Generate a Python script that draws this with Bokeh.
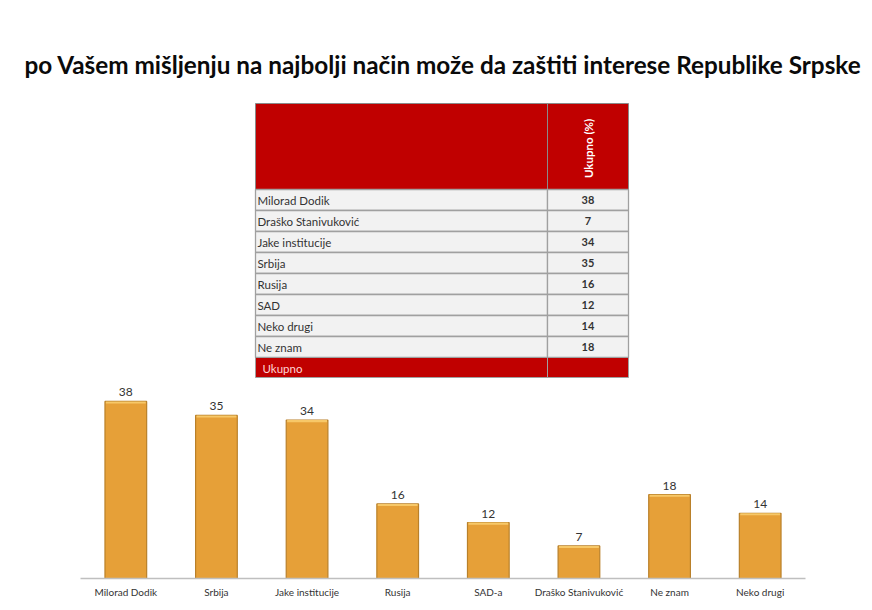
import math
from bokeh.plotting import figure
from bokeh.models import Range1d, FactorRange, Title
from bokeh.layouts import column
from bokeh.core.properties import value
from bokeh.embed import file_html
from bokeh.resources import INLINE

# ---- data ----
title_text = "po Vašem mišljenju na najbolji način može da zaštiti interese Republike Srpske"
table_header = "Ukupno (%)"
table_rows = ["Milorad Dodik", "Draško Stanivuković", "Jake institucije", "Srbija",
              "Rusija", "SAD", "Neko drugi", "Ne znam"]
table_values = [38, 7, 34, 35, 16, 12, 14, 18]
table_total_label = "Ukupno"

bar_categories = ["Milorad Dodik", "Srbija", "Jake institucije", "Rusija",
                  "SAD-a", "Draško Stanivuković", "Ne znam", "Neko drugi"]
bar_values = [38, 35, 34, 16, 12, 7, 18, 14]

FONT = "Lato"

W = 870
FL, FR = 80, 805          # plot frame, shared by both figures
BL, BR = FL, W - FR

# ---- top figure: title + table ----
TOP_H = 378
FT = 95                   # frame top of the table figure
top = figure(width=W, height=TOP_H, x_range=Range1d(FL, FR), y_range=Range1d(TOP_H, FT),
             output_backend="svg", toolbar_location=None,
             min_border_left=BL, min_border_right=BR, min_border_top=FT, min_border_bottom=0)
top.axis.visible = False
top.grid.visible = False
top.outline_line_color = None
top.background_fill_color = "white"
top.border_fill_color = "white"

top.title = Title(text=title_text, align="center", text_font=FONT,
                  text_font_style="bold", text_font_size="24.3px", text_color="#0a0a0a",
                  standoff=33)

tl, tr, td = 255, 628, 547
h_top, h_bot = 103, 189
rh = 21
n = len(table_rows)

# header
top.quad(left=[tl, td], right=[td, tr], top=[h_top, h_top], bottom=[h_bot, h_bot],
         fill_color="#C00000", line_color="#8a8a8a", line_width=1)
top.text(x=[(td + tr) / 2], y=[(h_top + h_bot) / 2 + 2], text=[table_header],
         angle=math.pi / 2, text_font=value(FONT), text_font_style="bold",
         text_font_size="11.5px", text_color="white", text_align="center",
         text_baseline="middle")

# rows
row_tops = [h_bot + i * rh for i in range(n)]
row_bots = [t + rh for t in row_tops]
top.quad(left=[tl] * n, right=[td] * n, top=row_tops, bottom=row_bots,
         fill_color="#F2F2F2", line_color="#A0A0A0", line_width=1.3)
top.quad(left=[td] * n, right=[tr] * n, top=row_tops, bottom=row_bots,
         fill_color="#F2F2F2", line_color="#A0A0A0", line_width=1.3)
top.text(x=[tl + 2] * n, y=[t + rh / 2 for t in row_tops], text=table_rows,
         text_font=value(FONT), text_font_size="11.5px", text_color="#333333",
         text_align="left", text_baseline="middle")
top.text(x=[(td + tr) / 2] * n, y=[t + rh / 2 for t in row_tops],
         text=[str(v) for v in table_values], text_font=value(FONT),
         text_font_style="bold", text_font_size="11px", text_color="#333333",
         text_align="center", text_baseline="middle")

# total row
t_top = h_bot + n * rh
top.quad(left=[tl, td], right=[td, tr], top=[t_top, t_top], bottom=[t_top + rh - 1] * 2,
         fill_color="#C00000", line_color="#A0A0A0", line_width=1)
top.text(x=[tl + 7], y=[t_top + rh / 2], text=[table_total_label], text_font=value(FONT),
         text_font_size="11.5px", text_color="#FFD6D6", text_align="left",
         text_baseline="middle")

# ---- bottom figure: bar chart ----
bot = figure(width=W, height=226, x_range=FactorRange(*bar_categories, range_padding=0),
             y_range=Range1d(0, 42.5), output_backend="svg", toolbar_location=None,
             min_border_left=BL, min_border_right=BR, min_border_top=2, min_border_bottom=26)
bot.outline_line_color = None
bot.grid.visible = False
bot.yaxis.visible = False
bot.background_fill_color = "white"
bot.border_fill_color = "white"
bot.xaxis.axis_line_color = "#BFBFBF"
bot.xaxis.axis_line_width = 1.5
bot.xaxis.major_tick_line_color = None
bot.xaxis.minor_tick_line_color = None
bot.xaxis.major_tick_out = 0
bot.xaxis.major_tick_in = 0
bot.xaxis.major_label_standoff = 7
bot.xaxis.major_label_text_font = FONT
bot.xaxis.major_label_text_font_size = "10px"
bot.xaxis.major_label_text_color = "#333333"

bot.vbar(x=bar_categories, top=bar_values, width=0.46, fill_color="#E6A038",
         line_color="#B9802A", line_width=1.2)
bot.vbar(x=bar_categories, top=bar_values, bottom=[v - 0.45 for v in bar_values],
         width=0.44, fill_color="#F7C868", line_color=None)
bot.text(x=bar_categories, y=bar_values, text=[str(v) for v in bar_values],
         text_font=value(FONT), text_font_size="12px", text_color="#333333",
         text_align="center", text_baseline="bottom", y_offset=-5)

layout = column(top, bot, spacing=0)
open("out.html", "w").write(file_html(layout, INLINE))
